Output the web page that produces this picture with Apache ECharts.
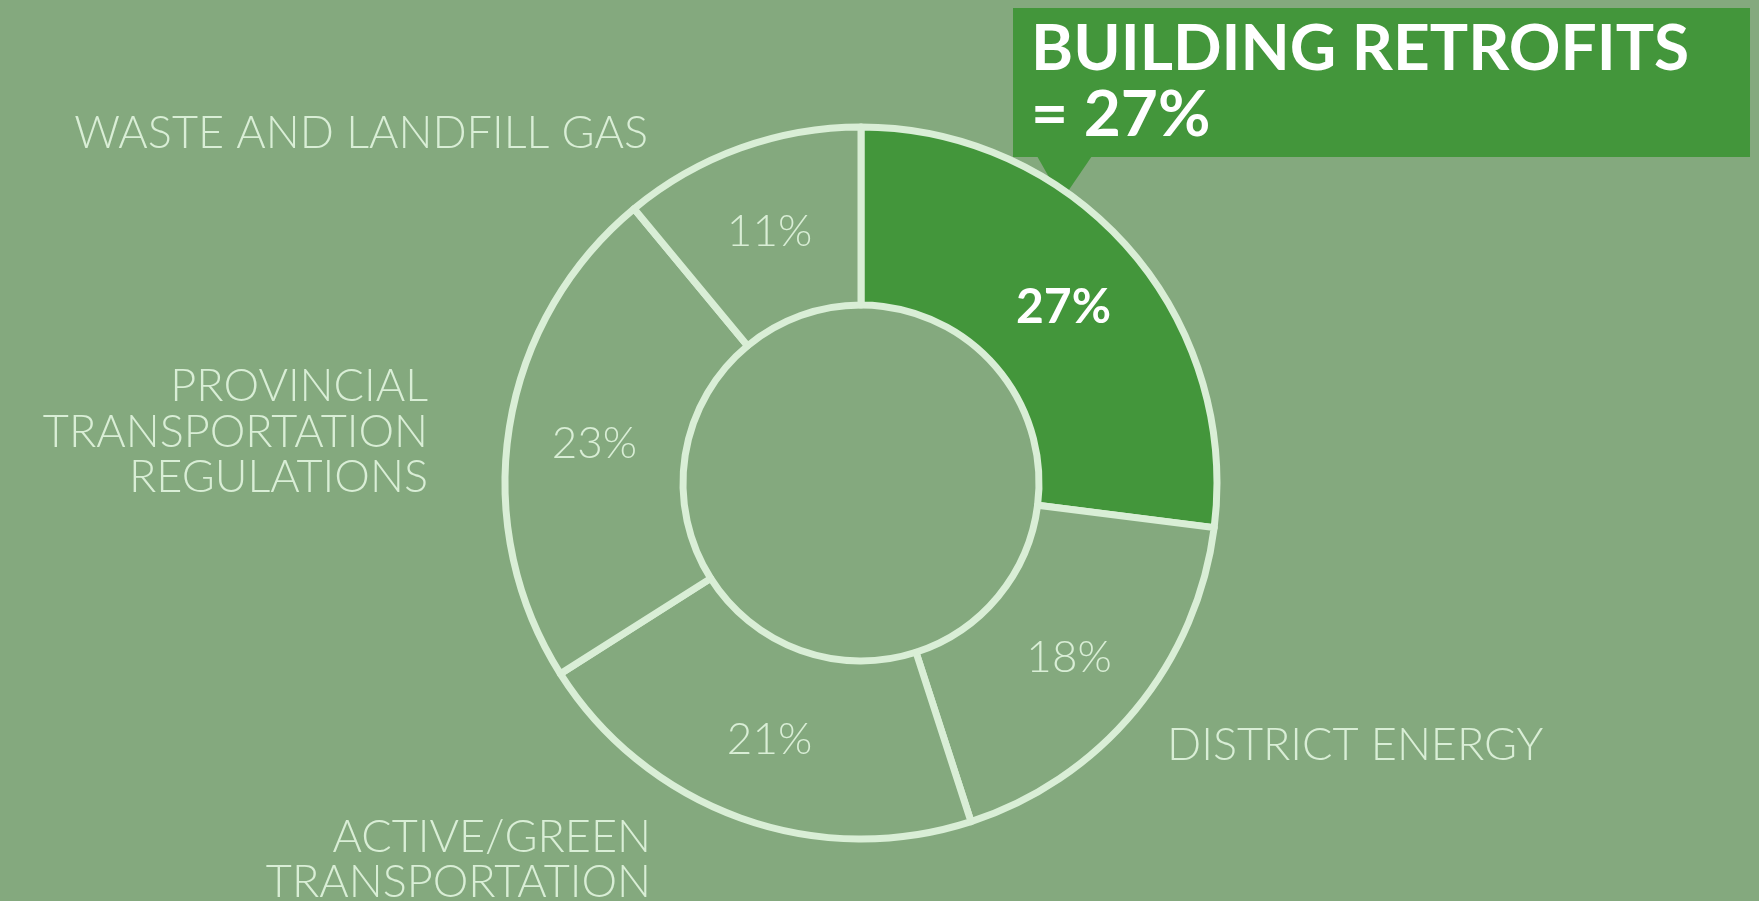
<!DOCTYPE html>
<html>
<head>
<meta charset="utf-8">
<script src="https://cdn.jsdelivr.net/npm/echarts@6/dist/echarts.min.js"></script>
<style>
  html, body { margin: 0; padding: 0; background: #84a97e; }
  #main { width: 1759px; height: 901px; }
</style>
</head>
<body>
<div id="main"></div>
<script>
// slices, clockwise from 12 o'clock
var categories = ['BUILDING RETROFITS', 'DISTRICT ENERGY', 'ACTIVE/GREEN TRANSPORTATION',
                  'PROVINCIAL TRANSPORTATION REGULATIONS', 'WASTE AND LANDFILL GAS'];
var shares = [27, 18, 21, 23, 11];
// how each name is broken for the outer labels
var labelLines = [
    ['BUILDING RETROFITS'],
    ['DISTRICT ENERGY'],
    ['ACTIVE/GREEN', 'TRANSPORTATION'],
    ['PROVINCIAL', 'TRANSPORTATION', 'REGULATIONS'],
    ['WASTE AND LANDFILL GAS']
];
var highlight = 0;

var bg = '#84a97e';
var light = '#d9eed6';
var dark = '#43963b';
var thin = 'Lato';

var mychart = echarts.init(document.getElementById('main'));

var pieData = [];
for (var i = 0; i < shares.length; i++) {
    var on = i === highlight;
    pieData.push({
        name: categories[i],
        value: shares[i],
        itemStyle: { color: on ? dark : bg },
        label: on ? { color: '#ffffff', fontWeight: 'bold', fontSize: 48 } : {}
    });
}

var lightText = {
    fill: light,
    fontFamily: thin,
    fontWeight: 300,
    fontSize: 45,
    lineHeight: 45.5
};
function outerLabel(idx, x, y, align) {
    return {
        type: 'text',
        x: x, y: y,
        style: Object.assign({}, lightText, {
            text: labelLines[idx].join('\n'),
            align: align,
            verticalAlign: 'middle'
        })
    };
}

var option = {
    backgroundColor: bg,
    animation: false,
    series: [{
        type: 'pie',
        center: [861, 483],
        radius: [178, 356],
        startAngle: 90,
        clockwise: true,
        silent: true,
        itemStyle: { borderColor: light, borderWidth: 7 },
        label: {
            show: true,
            position: 'inside',
            formatter: '{c}%',
            color: light,
            fontFamily: thin,
            fontWeight: 300,
            fontSize: 44,
            offset: [0, 3]
        },
        labelLine: { show: false },
        data: pieData
    }],
    graphic: [
        outerLabel(4, 648, 133, 'right'),
        outerLabel(3, 428, 432, 'right'),
        outerLabel(2, 651, 860, 'right'),
        outerLabel(1, 1167, 745, 'left'),
        // callout for the highlighted slice
        {
            type: 'group',
            z: 100,
            children: [
                { type: 'rect', shape: { x: 1013, y: 8, width: 737, height: 149 }, style: { fill: dark } },
                { type: 'polygon', shape: { points: [[1037, 156], [1092, 156], [1062, 200]] }, style: { fill: dark } },
                {
                    type: 'text', x: 1031, y: 16,
                    style: {
                        text: labelLines[highlight].join(' ') + '\n= ' + shares[highlight] + '%',
                        fill: '#ffffff',
                        fontFamily: 'Lato',
                        fontWeight: 'bold',
                        fontSize: 64,
                        lineHeight: 66,
                        align: 'left',
                        verticalAlign: 'top'
                    }
                }
            ]
        }
    ]
};
mychart.setOption(option);
</script>
</body>
</html>
